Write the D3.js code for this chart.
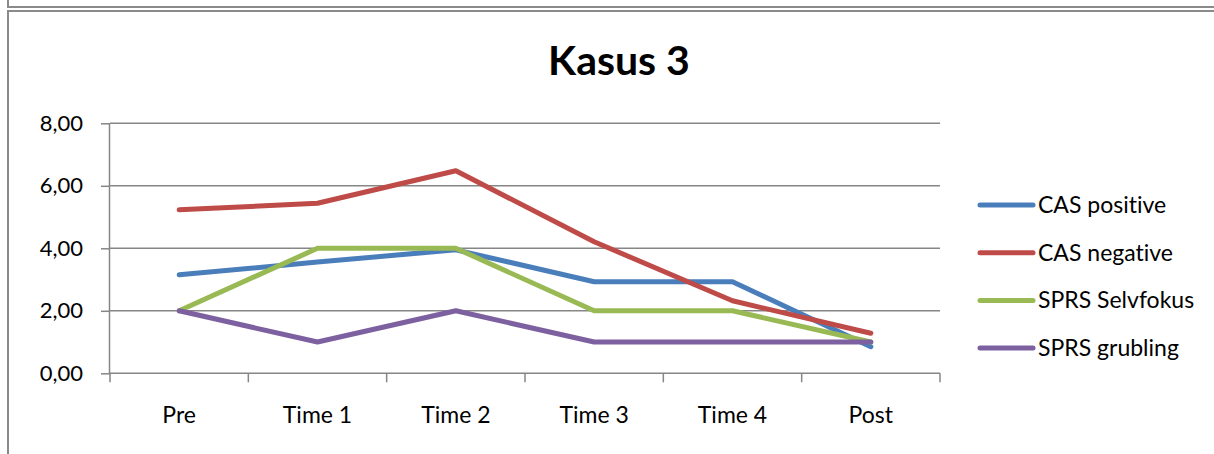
<!DOCTYPE html>
<html>
<head>
<meta charset="utf-8">
<script src="https://cdn.jsdelivr.net/npm/d3@7"></script>
<style>
  body { margin: 0; background: #fff; }
  text { font-family: Lato, "Open Sans", sans-serif; fill: #000; font-variant-ligatures: none; }
</style>
</head>
<body>
<div id="main"></div>
<script>
const categories = ["Pre", "Time 1", "Time 2", "Time 3", "Time 4", "Post"];
const seriesNames = ["CAS positive", "CAS negative", "SPRS Selvfokus", "SPRS grubling"];
const casPositive = [3.15, 3.56, 3.95, 2.93, 2.93, 0.85];
const casNegative = [5.23, 5.44, 6.48, 4.21, 2.32, 1.28];
const sprsSelvfokus = [2, 4, 4, 2, 2, 1];
const sprsGrubling = [2, 1, 2, 1, 1, 1];
const yTicks = [0, 2, 4, 6, 8];
const colors = ["#4A7EBB", "#BE4B48", "#98B954", "#7D60A0"];

const ctx = { w: 1214, h: 454, left: 110, right: 940, top: 123.3, bottom: 373.3 };

function createViz(){
    let svg = d3.select("#main").append("svg")
        .attr("width", ctx.w).attr("height", ctx.h);

    // frame fragments (chart box and the one above it)
    svg.append("rect").attr("x", 8).attr("y", -20).attr("width", 1300).attr("height", 27)
       .attr("fill", "none").attr("stroke", "#8a8a8a").attr("stroke-width", 2);
    svg.append("rect").attr("x", 8).attr("y", 11).attr("width", 1300).attr("height", 600)
       .attr("fill", "none").attr("stroke", "#8a8a8a").attr("stroke-width", 2);

    let x = d3.scaleBand().domain(categories).range([ctx.left, ctx.right]).padding(0);
    let y = d3.scaleLinear().domain([0, 8]).range([ctx.bottom, ctx.top]);
    let cx = (c) => x(c) + x.bandwidth() / 2;

    // gridlines
    svg.append("g").selectAll("line")
       .data(yTicks.filter(d => d > 0))
       .enter().append("line")
       .attr("x1", ctx.left).attr("x2", ctx.right)
       .attr("y1", d => y(d)).attr("y2", d => y(d))
       .attr("stroke", "#868686").attr("stroke-width", 1.5);

    // y axis
    let yAx = svg.append("g").attr("transform", `translate(${ctx.left},0)`)
       .call(d3.axisLeft(y).tickValues(yTicks).tickSize(9).tickPadding(18)
             .tickFormat(d => d3.format(".2f")(d).replace(".", ",")));
    yAx.select(".domain").attr("stroke", "#868686").attr("stroke-width", 1.5)
       .attr("d", `M-0.5,${ctx.bottom}V${ctx.top}`);
    yAx.selectAll(".tick line").attr("stroke", "#868686").attr("stroke-width", 1.5);
    yAx.selectAll("text").style("font-size", "22px").attr("fill", "#000");

    // x axis: labels centred in bands, ticks on band boundaries
    let xAx = svg.append("g").attr("transform", `translate(0,${ctx.bottom})`)
       .call(d3.axisBottom(x).tickSize(0).tickPadding(33));
    xAx.select(".domain").attr("stroke", "#868686").attr("stroke-width", 1.5)
       .attr("d", `M${ctx.left},0H${ctx.right}`);
    xAx.selectAll("text").style("font-size", "23px").attr("fill", "#000");
    let bounds = categories.map(c => x(c)).concat([ctx.right]);
    xAx.selectAll("line.bnd").data(bounds).enter().append("line").attr("class", "bnd")
       .attr("x1", d => d).attr("x2", d => d).attr("y1", 0).attr("y2", 9)
       .attr("stroke", "#868686").attr("stroke-width", 1.5);

    // series lines
    let allSeries = [casPositive, casNegative, sprsSelvfokus, sprsGrubling];
    let lineGen = d3.line().x((d, i) => cx(categories[i])).y(d => y(d));
    svg.append("g").selectAll("path")
       .data(allSeries)
       .enter().append("path")
       .attr("d", d => lineGen(d))
       .attr("fill", "none")
       .attr("stroke", (d, i) => colors[i])
       .attr("stroke-width", 5)
       .attr("stroke-linejoin", "round")
       .attr("stroke-linecap", "round");

    // title
    svg.append("text").attr("x", 619).attr("y", 75)
       .attr("text-anchor", "middle")
       .style("font-size", "41px").style("font-weight", "bold")
       .text("Kasus 3");

    // legend
    let leg = svg.append("g").selectAll("g")
       .data(seriesNames).enter().append("g")
       .attr("transform", (d, i) => `translate(980,${205 + i * 47.7})`);
    leg.append("line").attr("x1", 0).attr("x2", 53)
       .attr("stroke", (d, i) => colors[i]).attr("stroke-width", 5)
       .attr("stroke-linecap", "round");
    leg.append("text").attr("x", 58).attr("y", 8)
       .style("font-size", "23px").text(d => d);
}

createViz();
</script>
</body>
</html>
